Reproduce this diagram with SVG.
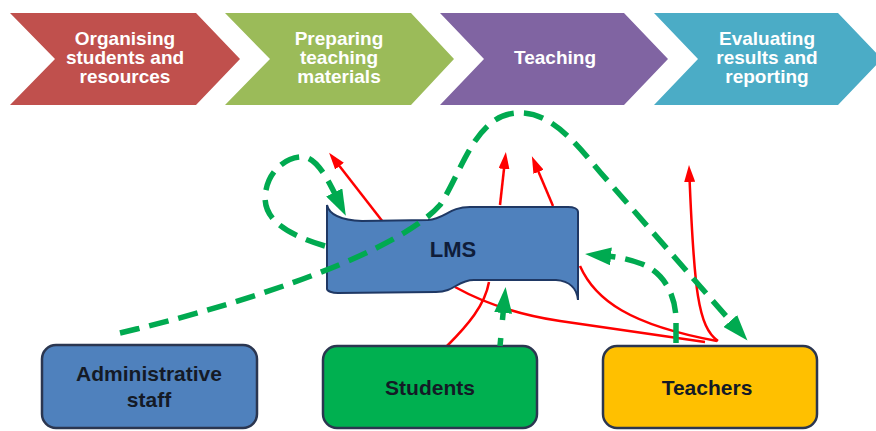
<svg xmlns="http://www.w3.org/2000/svg" width="876" height="431" viewBox="0 0 876 431">
  <style>
    .stage-label { font-family: "Liberation Sans", Arial, sans-serif; font-weight: bold; font-size: 19px; fill: #ffffff; text-anchor: middle; }
    .box { stroke: #2b3650; stroke-width: 2.5; }
    .box-label { font-family: "Liberation Sans", Arial, sans-serif; font-weight: bold; font-size: 21px; fill: #141a26; text-anchor: middle; }
    .flow { fill: none; stroke: #ff0000; stroke-width: 2.5; }
    .link { fill: none; stroke: #00aa50; stroke-width: 5.5; stroke-dasharray: 20 10; }
  </style>
  <defs>
    <marker id="red-head" markerUnits="userSpaceOnUse" markerWidth="17" markerHeight="11" refX="9" refY="5.5" orient="auto">
      <path d="M0,0 L17,5.5 L0,11 Z" fill="#ff0000"/>
    </marker>
    <marker id="green-head" markerUnits="userSpaceOnUse" markerWidth="26" markerHeight="18" refX="4" refY="9" orient="auto">
      <path d="M0,0 L26,9 L0,18 Z" fill="#00aa50"/>
    </marker>
  </defs>

  <rect width="876" height="431" fill="#ffffff"/>

  <!-- process stages -->
  <g id="stage-organising">
    <polygon points="10,13 196,13 240,59 196,105 10,105 55,59" fill="#c0504d"/>
    <text class="stage-label" x="125" y="45">Organising</text>
    <text class="stage-label" x="125" y="64">students and</text>
    <text class="stage-label" x="125" y="83">resources</text>
  </g>
  <g id="stage-preparing">
    <polygon points="225,13 411,13 454,59 411,105 225,105 270,59" fill="#9bbb59"/>
    <text class="stage-label" x="339" y="45">Preparing</text>
    <text class="stage-label" x="339" y="64">teaching</text>
    <text class="stage-label" x="339" y="83">materials</text>
  </g>
  <g id="stage-teaching">
    <polygon points="440,13 624,13 668,59 624,105 440,105 484,59" fill="#8064a2"/>
    <text class="stage-label" x="555" y="64">Teaching</text>
  </g>
  <g id="stage-evaluating">
    <polygon points="654,13 838,13 882,59 838,105 654,105 698,59" fill="#4bacc6"/>
    <text class="stage-label" x="767" y="45">Evaluating</text>
    <text class="stage-label" x="767" y="64">results and</text>
    <text class="stage-label" x="767" y="83">reporting</text>
  </g>

  <!-- information flows (drawn under the LMS banner) -->
  <g id="flows">
    <path class="flow" d="M383,222 L334,159" marker-end="url(#red-head)"/>
    <path class="flow" d="M500,205 L505,160" marker-end="url(#red-head)"/>
    <path class="flow" d="M553,206 L535,163.5" marker-end="url(#red-head)"/>
    <path class="flow" d="M718,341 C698,327 694,290 689.3,173" marker-end="url(#red-head)"/>
    <path class="flow" d="M580,266 C595,300 630,325 717,341"/>
    <path class="flow" d="M455,287 Q500,312 560,321 T705,342"/>
    <path class="flow" d="M447,346 C468,325 485,305 489,282"/>
  </g>

  <!-- LMS banner -->
  <g id="lms">
    <path d="M327,205 C329,214 340,220 362,221 L428,220 C445,219 449,207 470,207 L568,207 C574,207 578,209 578,212 L578,300 C577,289 570,281 556,280 L474,280 C457,280 455,292 436,292 L338,293 C332,293 327,291 327,289 Z" fill="#4f81bd" stroke="#1f3864" stroke-width="2"/>
    <text x="453" y="257" font-family="'Liberation Sans', Arial, sans-serif" font-weight="bold" font-size="22" fill="#0f1d3a" text-anchor="middle">LMS</text>
  </g>

  <!-- user groups -->
  <g id="administrative-staff">
    <rect class="box" x="42" y="345" width="215" height="83" rx="14" fill="#4f81bd"/>
    <text class="box-label" x="149" y="381">Administrative</text>
    <text class="box-label" x="149" y="407">staff</text>
  </g>
  <g id="students">
    <rect class="box" x="323" y="346" width="214" height="82" rx="14" fill="#00b050"/>
    <text class="box-label" x="430" y="395">Students</text>
  </g>
  <g id="teachers">
    <rect class="box" x="603" y="346" width="214" height="82" rx="14" fill="#ffc000"/>
    <text class="box-label" x="707" y="395">Teachers</text>
  </g>

  <!-- interaction links -->
  <g id="links">
    <path class="link" d="M325,246 C285,234 260,218 266,190 C270,168 290,155 305,157 C318,160 328,180 336,196" marker-end="url(#green-head)"/>
    <path class="link" d="M120,333 C260,300 400,250 440,205 C462,172 475,115 517,113 C550,111 575,142 600,172 L733,324" marker-end="url(#green-head)"/>
    <path class="link" d="M676,343 L676,318 C675,292 662,272 642,264 C628,259 618,257 607,256" marker-end="url(#green-head)"/>
    <path class="link" d="M500,346 L503.5,309" style="stroke-dasharray: 8 18 14" marker-end="url(#green-head)"/>
  </g>
</svg>
